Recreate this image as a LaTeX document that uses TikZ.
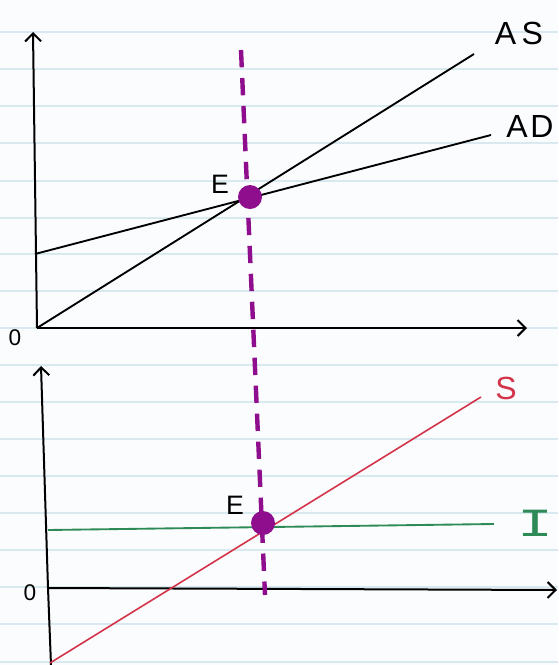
\documentclass[tikz,border=0pt]{standalone}
\usepackage{fontspec}
\setmainfont{Liberation Sans}
\newfontfamily\monoI{Liberation Mono}
\usetikzlibrary{arrows.meta}
\definecolor{ruled}{HTML}{D9E9F0}
\definecolor{paper}{HTML}{FBFCFD}
\definecolor{purp}{HTML}{8E0E8E}
\definecolor{redline}{HTML}{D4344A}
\definecolor{greenline}{HTML}{2E8B57}
\tikzset{
  axis/.style={line width=1.5pt, black, -{Straight Barb[length=6pt,width=12pt,line width=1.5pt]}},
  curve/.style={line width=1.4pt, black},
  lab/.style={font=\fontsize{24}{24}\selectfont, inner sep=0pt},
  elab/.style={font=\fontsize{20}{20}\selectfont, inner sep=0pt},
  zlab/.style={font=\fontsize{17}{17}\selectfont, inner sep=0pt},
  ilabst/.style={font=\monoI\fontsize{30}{30}\selectfont, inner sep=0pt, xscale=1.5},
  dot/.style={circle, fill=purp, minimum size=18pt, inner sep=0pt},
  guide/.style={purp, line width=3.3pt, dash pattern=on 13pt off 8pt},
}
\begin{document}
\begin{tikzpicture}[x=0.75pt,y=-0.75pt]
\fill[paper] (0,0) rectangle (558,665);
\useasboundingbox (0,0) rectangle (558,665);
\foreach \yy in {32,69,106,143,181,218,254,291,328,365,402,439,476,513,550,587,624,662}
  \draw[ruled, line width=1pt] (0,\yy) -- (558,\yy);
% upper axes
\coordinate (uy) at (33,32);
\coordinate (uo) at (37,328);
\coordinate (ux) at (527,328);
\draw[axis] (uo) -- (uy);
\draw[axis] (uo) -- (ux);
\node[zlab] (u0) at (15,338) {0};
% AD and AS
\coordinate (ad0) at (35,254);
\coordinate (ad1) at (491,135);
\coordinate (as1) at (474,54);
\draw[curve] (ad0) -- (ad1);
\draw[curve] (uo) -- (as1);
\node[lab] (aslab) at (519,33) {A\hspace{4pt}S};
\node[lab] (adlab) at (530,126) {A\hspace{2pt}D};
% lower axes
\coordinate (ly) at (41,366);
\coordinate (lb) at (51,665);
\coordinate (lo) at (48,588);
\coordinate (lx) at (557,590);
\draw[line width=1.5pt] (lb) -- (lo);
\draw[axis] (lo) -- (ly);
\draw[axis] (lo) -- (lx);
\node[zlab] (l0) at (30,593) {0};
% I line
\coordinate (i0) at (48,530);
\coordinate (i1) at (494,524);
\draw[greenline, line width=1.4pt] (i0) -- (i1);
\node[ilabst, text=greenline] (ilab) at (535,523) {I};
% S line
\coordinate (s0) at (50,663);
\coordinate (s1) at (481,397);
\draw[redline, line width=1.2pt] (s0) -- (s1);
\node[lab, text=redline] (slab) at (506,388) {S};
% guide
\coordinate (g0) at (241,50);
\coordinate (g1) at (265,595);
\draw[guide] (g0) -- (g1);
% E points
\node[dot] (e1) at (250,197) {};
\node[dot] (e2) at (263,523) {};
\node[elab] (e1lab) at (220,184) {E};
\node[elab] (e2lab) at (235,505) {E};
\end{tikzpicture}
\end{document}
